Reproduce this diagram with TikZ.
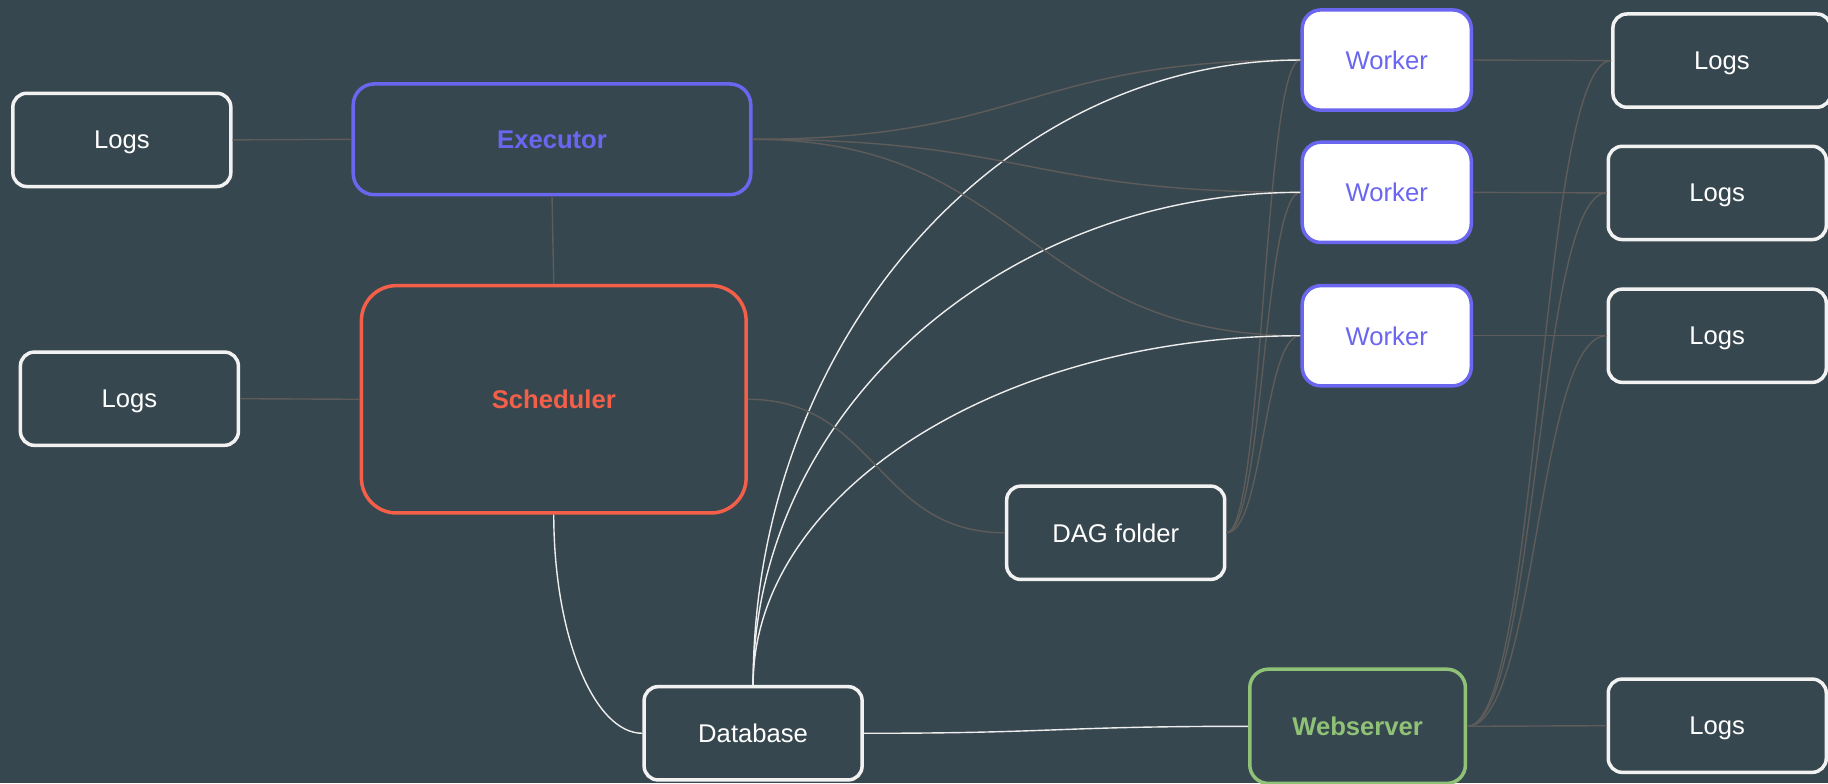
\documentclass[tikz,border=0pt]{standalone}
\usepackage{fontspec}
\setmainfont{Liberation Sans}
\usetikzlibrary{calc}
\definecolor{bgc}{HTML}{37474F}
\definecolor{execc}{RGB}{106,102,240}
\definecolor{schedc}{RGB}{243,95,72}
\definecolor{webc}{RGB}{143,194,118}
\definecolor{boxw}{HTML}{F2F2F2}
\definecolor{grayln}{HTML}{5E5C5A}
\definecolor{whiteln}{HTML}{EEEEEE}
\begin{document}
\begin{tikzpicture}[x=0.5pt,y=-0.5pt,
  base/.style={rectangle,inner sep=0pt,line width=1.5pt,text depth=0pt,font=\fontsize{11}{13}\selectfont},
  logbox/.style={base,draw=boxw,text=white,rounded corners=6pt,minimum width=93.5pt,minimum height=40pt},
  execbox/.style={base,draw=execc,text=execc,font=\fontsize{11}{13}\selectfont\bfseries,rounded corners=9pt,minimum width=170.5pt,minimum height=47.5pt},
  schedbox/.style={base,draw=schedc,text=schedc,font=\fontsize{11}{13}\selectfont\bfseries,rounded corners=15pt,minimum width=165pt,minimum height=97.5pt},
  webbox/.style={base,draw=webc,text=webc,font=\fontsize{11}{13}\selectfont\bfseries,rounded corners=8pt,minimum width=92.5pt,minimum height=49pt},
  workbox/.style={base,draw=execc,fill=white,text=execc,rounded corners=8pt,minimum width=72.5pt,minimum height=43pt},
  gl/.style={draw=grayln,line width=0.6pt},
  wl/.style={draw=whiteln,line width=0.6pt},
  hcurve/.style={to path={let \p1=(\tikztostart), \p2=(\tikztotarget) in
    .. controls ({0.5*\x1+0.5*\x2},\y1) and ({0.5*\x1+0.5*\x2},\y2) .. (\tikztotarget)}},
  vhcurve/.style={to path={let \p1=(\tikztostart), \p2=(\tikztotarget) in
    .. controls (\x1,{0.45*\y1+0.55*\y2}) and ({0.55*\x1+0.45*\x2},\y2) .. (\tikztotarget)}}
]
\fill[bgc] (0,0) rectangle (1568,672);
\useasboundingbox (0,0) rectangle (1568,672);

\node[logbox]   (logsA) at (104.5,120) {Logs};
\node[execbox]  (exec)  at (473.5,119.5) {Executor};
\node[logbox]   (logsB) at (111,342) {Logs};
\node[schedbox] (sched) at (475,342.5) {Scheduler};
\node[logbox]   (db)    at (646,629) {Database};
\node[logbox]   (dag)   at (957,457) {DAG folder};
\node[webbox]   (web)   at (1164.5,623) {Webserver};
\node[workbox]  (w1)    at (1189.5,51.5) {Worker};
\node[workbox]  (w2)    at (1189.5,165) {Worker};
\node[workbox]  (w3)    at (1189.5,288) {Worker};
\node[logbox]   (l1)    at (1477,52) {Logs};
\node[logbox]   (l2)    at (1473,165.5) {Logs};
\node[logbox]   (l3)    at (1473,288) {Logs};
\node[logbox]   (l4)    at (1473,622.5) {Logs};

\draw[gl] (logsA.east) -- (exec.west);
\draw[gl] (exec.south) -- (sched.north);
\draw[gl] (logsB.east) -- (sched.west);
\foreach \w in {w1,w2,w3} {
  \draw[gl] (exec.east) to[hcurve] (\w.west);
  \draw[gl] (dag.east) to[hcurve] (\w.west);
  \draw[wl] (db.north) to[vhcurve] (\w.west);
}
\draw[gl] (sched.east) to[hcurve] (dag.west);
\draw[wl] (sched.south) to[vhcurve] (db.west);
\draw[wl] (db.east) to[hcurve] (web.west);
\draw[gl] (w1.east) -- (l1.west);
\draw[gl] (w2.east) -- (l2.west);
\draw[gl] (w3.east) -- (l3.west);
\foreach \l in {l1,l2,l3,l4} {
  \draw[gl] (web.east) to[hcurve] (\l.west);
}
\end{tikzpicture}
\end{document}
